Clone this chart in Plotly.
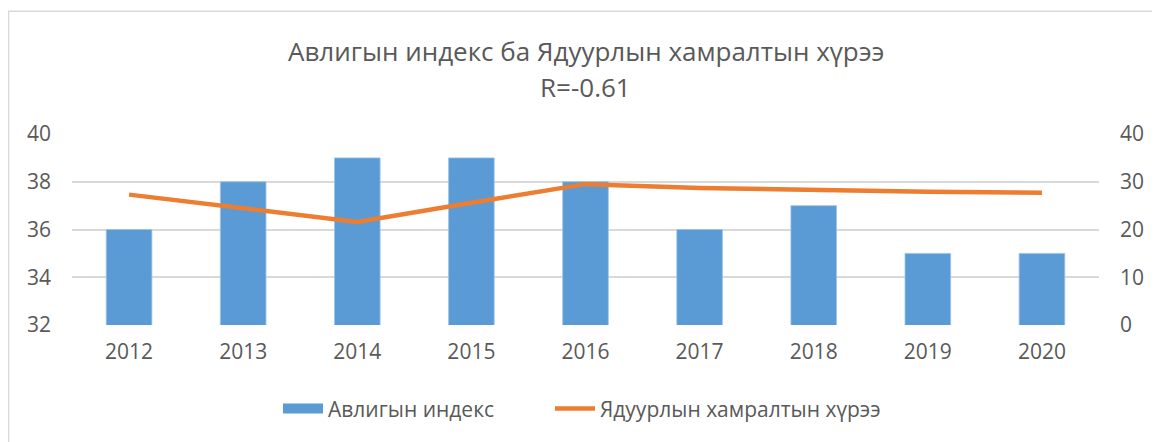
import plotly.graph_objects as go

years = ["2012", "2013", "2014", "2015", "2016", "2017", "2018", "2019", "2020"]
corruption_index = [36, 38, 39, 39, 38, 36, 37, 35, 35]
poverty_rate = [27.3, 24.5, 21.6, 25.6, 29.5, 28.7, 28.2, 27.9, 27.7]
left_ticks = [32, 34, 36, 38, 40]
right_ticks = [0, 10, 20, 30, 40]
title_line1 = "Авлигын индекс ба Ядуурлын хамралтын хүрээ"
title_line2 = "R=-0.61"
name_bar = "Авлигын индекс"
name_line = "Ядуурлын хамралтын хүрээ"

FONT = "Open Sans"
GRAY = "#595959"
GRID = "#D9D9D9"
BLUE = "#5B9BD5"
ORANGE = "#ED7D31"

# page body has an 8px margin, so work in figure coordinates shifted by 8px
OFF = 8
W, H = 1160 - OFF, 442 - OFF
L, R, T, B = 72 - OFF, 1160 - 1099, 133.5 - OFF, 442 - 325
pw = W - L - R
ph = H - T - B

def px_x(px):
    return (px - OFF - L) / pw

def px_y(py):
    return (H - B - (py - OFF)) / ph

fig = go.Figure()
fig.add_trace(go.Bar(
    x=years, y=corruption_index, name=name_bar, showlegend=False,
    marker=dict(color=BLUE, line=dict(color="#9DC3E6", width=0.8)),
    width=0.4, yaxis="y",
))
# legend entry for the bars (wide rectangle swatch like the original)
fig.add_trace(go.Scatter(
    x=[None], y=[None], name=name_bar, mode="lines",
    line=dict(color=BLUE, width=12), yaxis="y", hoverinfo="skip",
    legend="legend",
))
fig.add_trace(go.Scatter(
    x=years, y=poverty_rate, name=name_line, mode="lines",
    line=dict(color=ORANGE, width=4.5), yaxis="y2", legend="legend2",
))

leg_common = dict(orientation="h", yanchor="middle", y=px_y(409),
                  font=dict(size=21, color=GRAY), itemwidth=40,
                  bgcolor="rgba(0,0,0,0)", xanchor="left")

fig.update_layout(
    width=W, height=H,
    margin=dict(l=L, r=R, t=T, b=B, autoexpand=False),
    paper_bgcolor="white", plot_bgcolor="white",
    font=dict(family=FONT, color=GRAY, size=21),
    showlegend=True,
    legend=dict(x=px_x(278), **leg_common),
    legend2=dict(x=px_x(550), **leg_common),
    xaxis=dict(type="category", showgrid=False, showline=False,
               ticks="", ticklabelstandoff=12, tickfont=dict(size=21, color=GRAY)),
    yaxis=dict(range=[32, 40], tickvals=left_ticks, showgrid=True,
               gridcolor=GRID, gridwidth=1.5, zeroline=False, showline=False,
               ticks="", ticklabelstandoff=20, tickfont=dict(size=21, color=GRAY)),
    yaxis2=dict(range=[0, 40], tickvals=right_ticks, overlaying="y", side="right",
                showgrid=False, zeroline=False, showline=False,
                ticks="", ticklabelstandoff=20, tickfont=dict(size=21, color=GRAY)),
    bargap=0.6,
    annotations=[
        dict(text=title_line1, x=0.5, xref="paper", y=px_y(50), yref="paper",
             showarrow=False, xanchor="center", yanchor="middle",
             font=dict(size=26, color=GRAY, family=FONT)),
        dict(text=title_line2, x=0.5, xref="paper", y=px_y(86), yref="paper",
             showarrow=False, xanchor="center", yanchor="middle",
             font=dict(size=26, color=GRAY, family=FONT)),
    ],
    shapes=[
        dict(type="rect", xref="paper", yref="paper",
             x0=px_x(8.5), x1=px_x(1200), y0=px_y(470), y1=px_y(10.5),
             line=dict(color="#D9D9D9", width=1.5), layer="below"),
    ],
)

fig.write_html("out.html")
